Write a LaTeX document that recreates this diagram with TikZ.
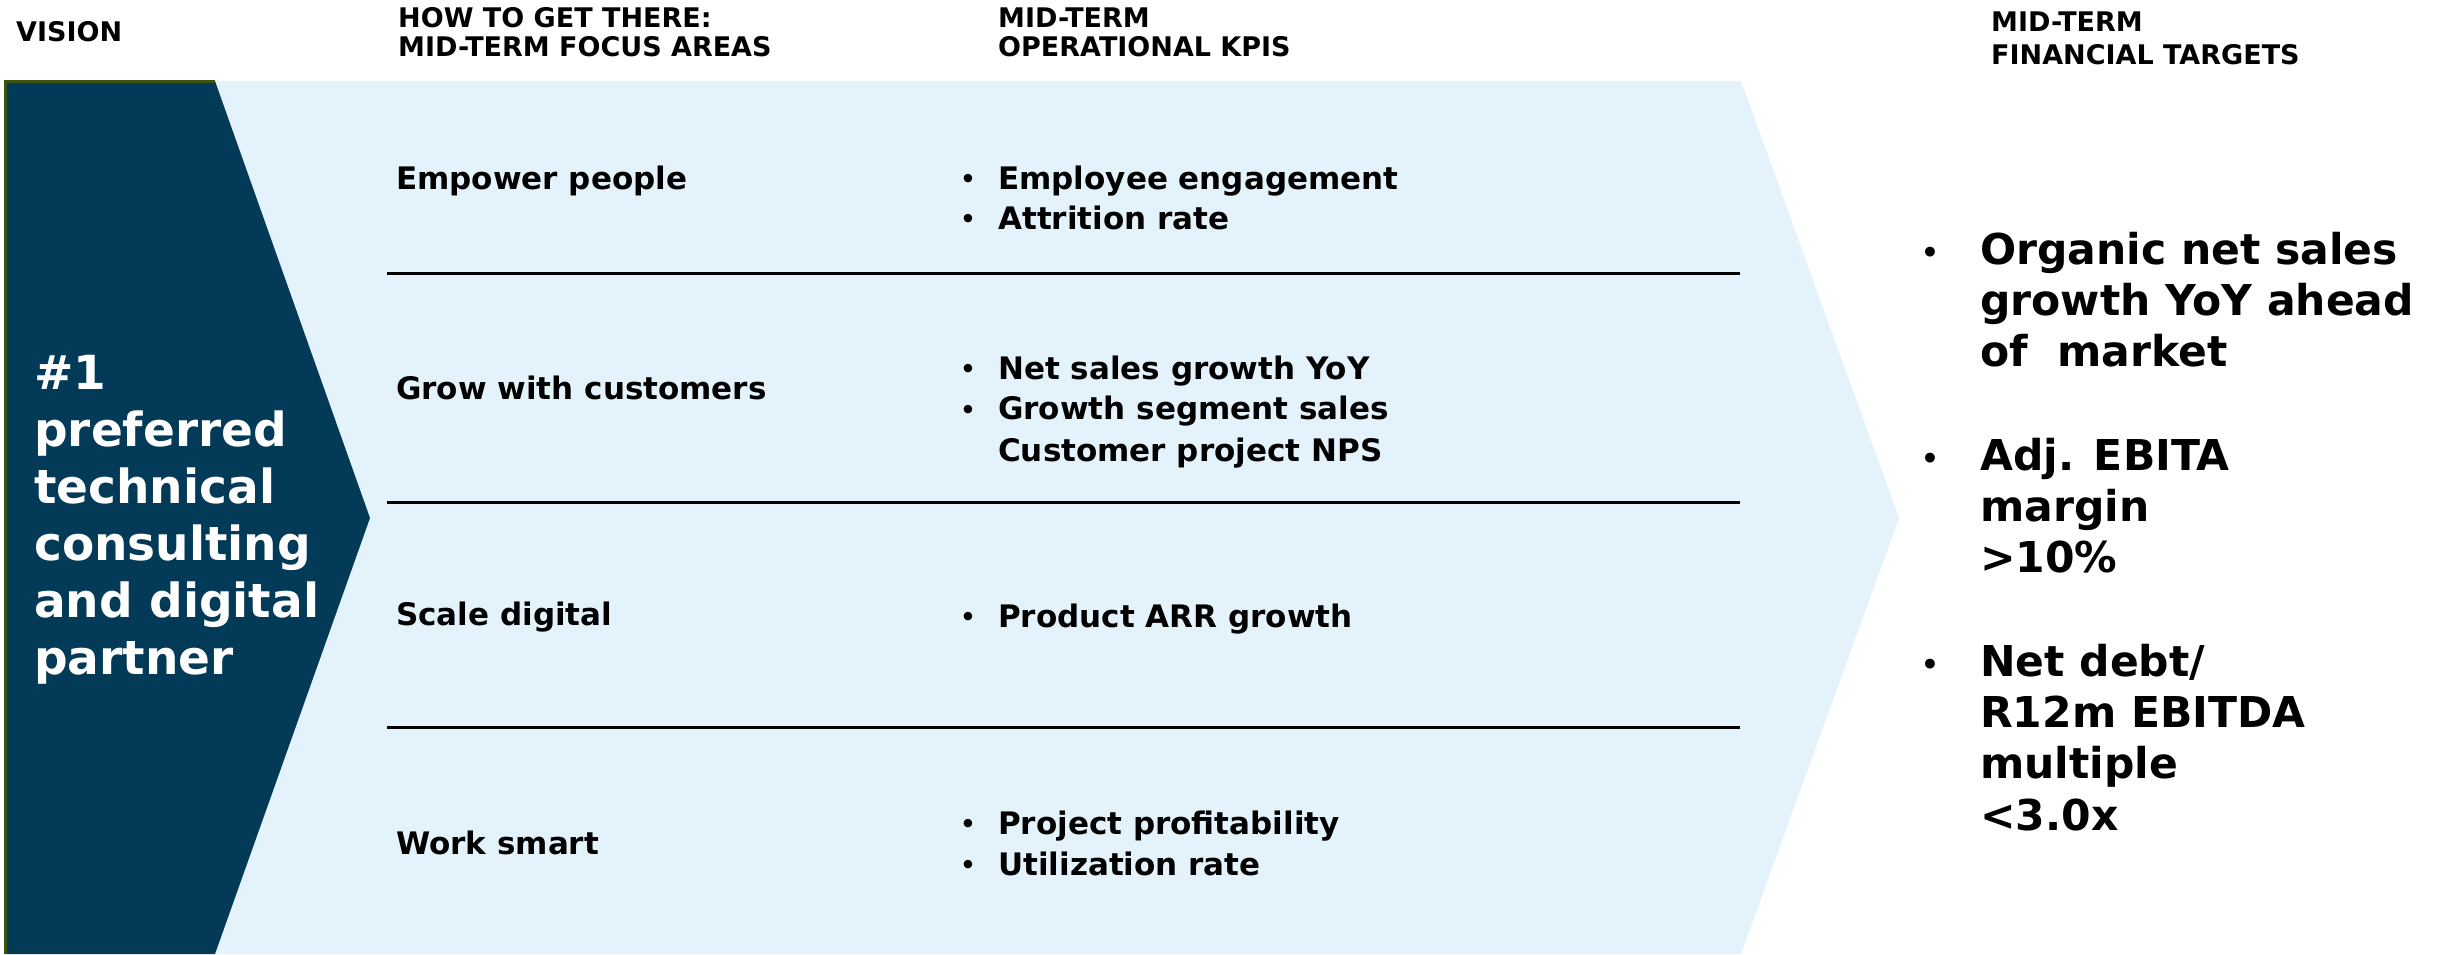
\documentclass[tikz,border=0pt]{standalone}
\usepackage{fontspec}
\setmainfont{DejaVu Sans}
\definecolor{navy}{HTML}{023A57}
\definecolor{lightblue}{HTML}{E4F3FB}
\definecolor{olive}{HTML}{3D5310}
\tikzset{
  hdr/.style={anchor=base west, inner sep=0pt, align=left, font=\fontsize{27}{29.5}\selectfont\bfseries},
  fin/.style={hdr, font=\fontsize{27}{33}\selectfont\bfseries},
  mid/.style={anchor=base west, inner sep=0pt, font=\fontsize{31}{40}\selectfont\bfseries},
  bul/.style={anchor=base, inner sep=0pt, font=\fontsize{24}{30}\selectfont\bfseries},
  big/.style={anchor=base west, inner sep=0pt, align=left, font=\fontsize{42.5}{51.3}\selectfont\bfseries},
  bigbul/.style={anchor=base, inner sep=0pt, font=\fontsize{28}{40}\selectfont\bfseries},
  vis/.style={anchor=base west, inner sep=0pt, align=left, text=white, font=\fontsize{47}{57}\selectfont\bfseries},
  sep/.style={line width=3pt, black}
}
\begin{document}
\begin{tikzpicture}[x=1pt,y=-1pt]
\useasboundingbox (0,0) rectangle (2445,954);
% light chevron
\fill[lightblue] (215,81) -- (1741,81) -- (1899,518) -- (1741,954) -- (215,954) -- cycle;
% dark chevron
\fill[navy] (5,81) -- (215,81) -- (370,518) -- (215,954) -- (5,954) -- cycle;
\draw[olive, line width=3pt] (5,954) -- (5,81) -- (215,81);
% headers (anchors at the last line's baseline)
\node[hdr] (hv) at (16,41.5) {VISION};
\node[hdr] (hf) at (398,56.5) {HOW TO GET THERE:\\MID-TERM FOCUS AREAS};
\node[hdr] (hk) at (998,56.5) {MID-TERM\\OPERATIONAL KPIS};
\node[fin] (ht) at (1991,64.5) {MID-TERM\\FINANCIAL TARGETS};
% vision text
\node[vis] (vision) at (34,674) {\#1\\preferred\\technical\\consulting\\and digital\\partner};
% separators
\coordinate (s1a) at (387,273); \coordinate (s1b) at (1740,273);
\coordinate (s2a) at (387,502); \coordinate (s2b) at (1740,502);
\coordinate (s3a) at (387,727); \coordinate (s3b) at (1740,727);
\draw[sep] (s1a) -- (s1b);
\draw[sep] (s2a) -- (s2b);
\draw[sep] (s3a) -- (s3b);
% focus areas
\node[mid] (f1) at (396,189) {Empower people};
\node[mid] (f2) at (396,399) {Grow with customers};
\node[mid] (f3) at (396,625) {Scale digital};
\node[mid] (f4) at (396,854) {Work smart};
% KPIs
\node[bul] (b11) at (968,187) {•};
\node[mid] (k11) at (998,189) {Employee engagement};
\node[bul] (b12) at (968,227) {•};
\node[mid] (k12) at (998,229) {Attrition rate};
\node[bul] (b21) at (968,377) {•};
\node[mid] (k21) at (998,379) {Net sales growth YoY};
\node[bul] (b22) at (968,418) {•};
\node[mid] (k22) at (998,419.5) {Growth segment sales};
\node[mid] (k23) at (998,461.5) {Customer project NPS};
\node[bul] (b31) at (968,625) {•};
\node[mid] (k31) at (998,627) {Product ARR growth};
\node[bul] (b41) at (968,832) {•};
\node[mid] (k41) at (998,834) {Project profitability};
\node[bul] (b42) at (968,873) {•};
\node[mid] (k42) at (998,875) {Utilization rate};
% financial targets (anchors at the last line's baseline)
\node[bigbul] (t1b) at (1930,262) {•};
\node[big] (t1) at (1980,366.6) {Organic net sales\\growth YoY ahead\\of\ \ market};
\node[bigbul] (t2b) at (1930,468) {•};
\node[big] (t2) at (1980,572.6) {Adj. EBITA\\margin\\>10\%};
\node[bigbul] (t3b) at (1930,674) {•};
\node[big] (t3) at (1980,830) {Net debt/\\R12m EBITDA\\multiple\\<3.0x};
\end{tikzpicture}
\end{document}
